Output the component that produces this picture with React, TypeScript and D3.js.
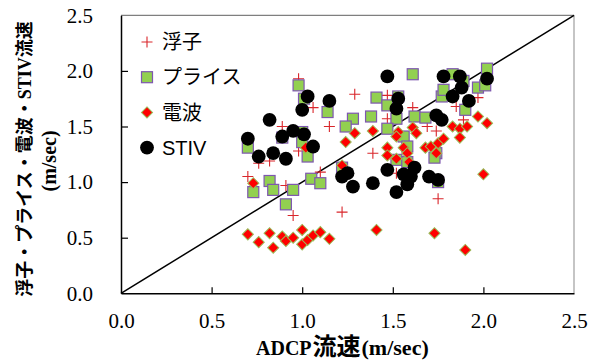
import React, { useRef, useEffect } from 'react';
import * as d3 from 'd3';

const floatData: [number, number][] = [
  [0.98, 1.93], [1.06, 1.67], [0.89, 1.50], [1.15, 1.50], [1.29, 1.79], [0.98, 1.28],
  [0.82, 1.19], [0.76, 1.17], [0.70, 1.05], [0.91, 0.97], [0.95, 0.70], [1.10, 1.09],
  [1.22, 0.73], [1.47, 1.78], [1.61, 1.67], [1.85, 1.68], [1.97, 1.76], [1.74, 1.46],
  [1.39, 1.26], [1.47, 1.57], [1.75, 0.85], [1.52, 1.08], [1.69, 1.50], [1.89, 1.56],
];

const priceData: [number, number][] = [
  [0.98, 1.87], [1.01, 1.75], [1.14, 1.63], [1.28, 1.57], [1.24, 1.50], [1.38, 1.59],
  [0.89, 1.40], [1.00, 1.45], [1.00, 1.36], [0.70, 1.31], [1.03, 1.23], [1.61, 1.97],
  [1.83, 1.97], [1.89, 1.91], [2.02, 2.02], [1.97, 1.85], [2.01, 1.87], [1.77, 1.77],
  [1.78, 1.83], [1.41, 1.76], [1.47, 1.69], [1.53, 1.77], [1.52, 1.57], [1.62, 1.59],
  [1.68, 1.58], [1.90, 1.65], [1.47, 1.48], [1.56, 1.41], [1.58, 1.32], [1.74, 1.26],
  [0.82, 1.01], [0.84, 0.93], [0.73, 0.91], [0.95, 0.93], [1.05, 1.03], [1.10, 0.99],
  [0.91, 0.80], [1.22, 1.13], [1.52, 1.20], [1.73, 1.22], [1.58, 1.18], [1.75, 1.00],
];

const radioData: [number, number][] = [
  [0.70, 0.53], [0.76, 0.46], [0.82, 0.54], [0.84, 0.41], [0.89, 0.51], [0.91, 0.47],
  [0.95, 0.50], [1.00, 0.57], [1.00, 0.44], [1.03, 0.48], [1.06, 0.52], [1.10, 0.55],
  [1.15, 0.49], [1.41, 0.57], [1.73, 0.54], [1.90, 0.39], [2.00, 1.07], [0.73, 0.99],
  [1.02, 1.31], [1.22, 1.15], [1.24, 1.36], [1.29, 1.44], [1.39, 1.46], [1.53, 1.45],
  [1.61, 1.49], [1.63, 1.44], [1.52, 1.41], [1.47, 1.31], [1.47, 1.24], [1.56, 1.31],
  [1.58, 1.26], [1.59, 1.18], [1.52, 1.21], [1.68, 1.31], [1.71, 1.32], [1.75, 1.35],
  [1.78, 1.39], [1.74, 1.26], [1.83, 1.50], [1.87, 1.48], [1.91, 1.50], [1.97, 1.59],
  [2.02, 1.53], [1.87, 1.40],
];

const stivData: [number, number][] = [
  [1.03, 1.77], [1.15, 1.73], [1.00, 1.65], [0.82, 1.56], [0.95, 1.46], [1.01, 1.43],
  [0.89, 1.41], [0.70, 1.39], [1.06, 1.32], [0.84, 1.26], [0.76, 1.23], [0.91, 1.21],
  [1.47, 1.95], [1.78, 1.95], [1.87, 1.95], [2.02, 1.93], [1.88, 1.85], [1.83, 1.77],
  [1.92, 1.73], [1.53, 1.75], [1.52, 1.66], [1.74, 1.60], [1.77, 1.56], [1.47, 1.11],
  [1.39, 0.99], [1.52, 0.91], [1.56, 1.07], [1.62, 1.13], [1.60, 1.05], [1.58, 0.98],
  [1.70, 1.05], [1.75, 1.02], [1.22, 1.05], [1.25, 1.08], [1.28, 0.96],
];

const tickValues = [0, 0.5, 1.0, 1.5, 2.0, 2.5];
const legendLabels = ['浮子', 'プライス', '電波', 'STIV'];

const serif = 'Liberation Serif, DejaVu Serif, serif';
const gothic = 'Noto Sans CJK JP, sans-serif';
const sans = 'Liberation Sans, Noto Sans CJK JP, sans-serif';

function App() {
  const svgRef = useRef<SVGSVGElement>(null);

  useEffect(() => {
    const svg = d3.select(svgRef.current);
    svg.selectAll('*').remove();

    const width = 592;
    const height = 362;
    const margin = { top: 15.3, right: 18, bottom: 68.7, left: 121 };

    const x = d3.scaleLinear().domain([0, 2.5]).range([margin.left, width - margin.right]);
    const y = d3.scaleLinear().domain([0, 2.5]).range([height - margin.bottom, margin.top]);

    svg.append('rect').attr('width', width).attr('height', height).attr('fill', '#fff');

    // top / right frame (grey)
    svg.append('line')
      .attr('x1', x(0)).attr('x2', x(2.5)).attr('y1', y(2.5)).attr('y2', y(2.5))
      .attr('stroke', '#7f7f7f').attr('stroke-width', 1.3);
    svg.append('line')
      .attr('x1', x(2.5)).attr('x2', x(2.5)).attr('y1', y(2.5)).attr('y2', y(0))
      .attr('stroke', '#a6a6a6').attr('stroke-width', 1.3);

    // 1:1 line
    svg.append('path')
      .datum([[0, 0], [2.5, 2.5]] as [number, number][])
      .attr('fill', 'none')
      .attr('stroke', '#000')
      .attr('stroke-width', 1.5)
      .attr('d', d3.line<[number, number]>().x(d => x(d[0])).y(d => y(d[1])));

    const xAxis = d3.axisBottom(x).tickValues(tickValues).tickFormat(d3.format('.1f'))
      .tickSize(-6).tickPadding(20).tickSizeOuter(0);
    const yAxis = d3.axisLeft(y).tickValues(tickValues).tickFormat(d3.format('.1f'))
      .tickSize(-7).tickPadding(28).tickSizeOuter(0);

    const gx = svg.append('g')
      .attr('transform', `translate(0,${y(0)})`)
      .call(xAxis);
    const gy = svg.append('g')
      .attr('transform', `translate(${x(0)},0)`)
      .call(yAxis);

    [gx, gy].forEach(g => {
      g.attr('font-family', serif).attr('font-size', 21);
      g.select('.domain').attr('stroke', '#000').attr('stroke-width', 1.5);
      g.selectAll('.tick line')
        .attr('stroke', '#000')
        .attr('stroke-width', 1.2)
        .attr('opacity', (d: any) => (d === 0 || d === 2.5 ? 0 : 1));
      g.selectAll('.tick text').attr('fill', '#000');
    });

    // markers
    const plot = svg.append('g');
    const plusSize = 5.5;
    const diamondPath = d3.symbol().type(d3.symbolSquare).size(62);

    plot.selectAll('path.float')
      .data(floatData)
      .join('path')
      .attr('class', 'float')
      .attr('d', d => `M${x(d[0]) - plusSize},${y(d[1])}h${plusSize * 2}M${x(d[0])},${y(d[1]) - plusSize}v${plusSize * 2}`)
      .attr('stroke', '#d9262b')
      .attr('stroke-width', 1.1)
      .attr('fill', 'none');

    plot.selectAll('rect.price')
      .data(priceData)
      .join('rect')
      .attr('class', 'price')
      .attr('x', d => x(d[0]) - 5.5)
      .attr('y', d => y(d[1]) - 5.5)
      .attr('width', 11)
      .attr('height', 11)
      .attr('fill', '#92d050')
      .attr('stroke', '#7e57b0')
      .attr('stroke-width', 1.2);

    plot.selectAll('path.radio')
      .data(radioData)
      .join('path')
      .attr('class', 'radio')
      .attr('transform', d => `translate(${x(d[0])},${y(d[1])}) rotate(45)`)
      .attr('d', diamondPath)
      .attr('fill', '#ff0000')
      .attr('stroke', '#9bbb59')
      .attr('stroke-width', 1);

    plot.selectAll('circle.stiv')
      .data(stivData)
      .join('circle')
      .attr('class', 'stiv')
      .attr('cx', d => x(d[0]))
      .attr('cy', d => y(d[1]))
      .attr('r', 6.9)
      .attr('fill', '#000');

    // legend
    const legend = svg.append('g').attr('transform', 'translate(147,42)');
    const rowGap = 35.2;
    legendLabels.forEach((label, i) => {
      const row = legend.append('g').attr('transform', `translate(0,${i * rowGap})`);
      if (i === 0) {
        row.append('path')
          .attr('d', `M${-plusSize},0h${plusSize * 2}M0,${-plusSize}v${plusSize * 2}`)
          .attr('stroke', '#d9262b').attr('stroke-width', 1.1);
      } else if (i === 1) {
        row.append('rect').attr('x', -5.5).attr('y', -5.5).attr('width', 11).attr('height', 11)
          .attr('fill', '#92d050').attr('stroke', '#7e57b0').attr('stroke-width', 1.2);
      } else if (i === 2) {
        row.append('path').attr('transform', 'rotate(45)')
          .attr('d', diamondPath)
          .attr('fill', '#ff0000').attr('stroke', '#9bbb59').attr('stroke-width', 1);
      } else {
        row.append('circle').attr('r', 6.9).attr('fill', '#000');
      }
      row.append('text')
        .attr('x', 15)
        .attr('dy', '0.36em')
        .attr('fill', '#000')
        .attr('font-family', sans)
        .attr('font-size', 20)
        .text(label);
    });

    // axis titles (latin parts serif, Japanese parts gothic)
    const xTitle = svg.append('text')
      .attr('x', 256)
      .attr('y', 354.5)
      .attr('fill', '#000')
      .attr('font-weight', 'bold')
      .attr('font-size', 20);
    xTitle.append('tspan').attr('font-family', serif).text('ADCP');
    xTitle.append('tspan').attr('font-family', gothic).attr('font-size', 24).attr('dx', 1).text('流速');
    xTitle.append('tspan').attr('font-family', serif).attr('font-size', 22).attr('dx', 1).text('(m/sec)');

    const yTitle = svg.append('g').attr('transform', 'rotate(-90)');
    const yLine1 = yTitle.append('text')
      .attr('x', -159)
      .attr('y', 31)
      .attr('text-anchor', 'middle')
      .attr('fill', '#000')
      .attr('font-weight', 'bold')
      .attr('font-size', 18);
    yLine1.append('tspan').attr('font-family', gothic).text('浮子・プライス・電波・');
    yLine1.append('tspan').attr('font-family', serif).text('STIV');
    yLine1.append('tspan').attr('font-family', gothic).text('流速');
    yTitle.append('text')
      .attr('x', -161)
      .attr('y', 56)
      .attr('text-anchor', 'middle')
      .attr('fill', '#000')
      .attr('font-weight', 'bold')
      .attr('font-size', 20)
      .attr('font-family', serif)
      .text('(m/sec)');
  }, []);

  return (
    <svg
      ref={svgRef}
      width={592}
      height={362}
      style={{ position: 'absolute', left: 0, top: 0 }}
    />
  );
}

export default App;
